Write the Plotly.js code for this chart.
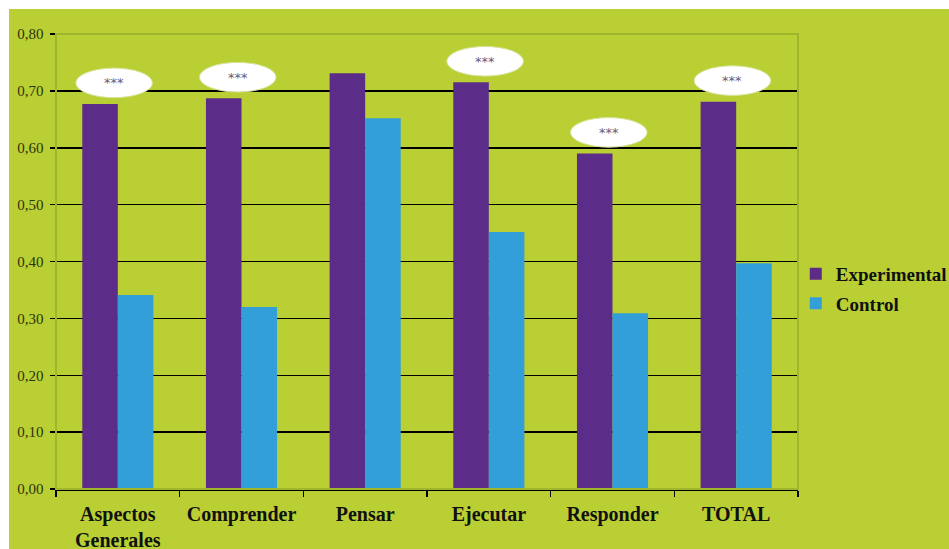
<!DOCTYPE html>
<html>
<head>
<meta charset="utf-8">
<script src="https://cdn.plot.ly/plotly-3.0.1.min.js"></script>
<style>
  html, body { margin: 0; padding: 0; background: #ffffff; }
  #chart { position: absolute; left: 9px; top: 9px; width: 940px; height: 540px; }
</style>
</head>
<body>
<div id="chart"></div>
<script>
const categories = ["Aspectos<br>Generales", "Comprender", "Pensar", "Ejecutar", "Responder", "TOTAL"];
const experimental = [0.677, 0.687, 0.731, 0.715, 0.590, 0.681];
const control = [0.341, 0.320, 0.652, 0.452, 0.309, 0.397];
const significant = [true, true, false, true, true, true];
const sigLabel = "***";
const yTicks = [0, 0.1, 0.2, 0.3, 0.4, 0.5, 0.6, 0.7, 0.8];

const green = "#bacf33";
const serif = "Liberation Serif, Times New Roman, serif";

const traces = [
  { type: "bar", name: "Experimental", x: categories, y: experimental, legendgroup: "e",
    marker: { color: "#5c2d88" }, hoverinfo: "none" },
  { type: "bar", name: "Control", x: categories, y: control, legendgroup: "c",
    marker: { color: "#339fd8" }, hoverinfo: "none" }
];

const shapes = [];
const annotations = [];
categories.forEach((c, i) => {
  if (!significant[i]) return;
  const cy = experimental[i] + 0.037;
  shapes.push({ type: "circle", xref: "x", yref: "y",
    x0: i - 0.34, x1: i + 0.28, y0: cy - 0.026, y1: cy + 0.026,
    fillcolor: "#ffffff", line: { color: "#d8e39a", width: 1 }, layer: "above" });
  annotations.push({ xref: "x", yref: "y", x: i - 0.03, y: cy, text: sigLabel,
    showarrow: false, font: { family: "DejaVu Sans, sans-serif", size: 13, color: "#6a5a7a" } });
});
// plot area border
shapes.push({ type: "rect", xref: "paper", yref: "paper", x0: 0, x1: 1, y0: 0, y1: 1,
  line: { color: "#9fb52c", width: 2 }, layer: "above" });

const layout = {
  width: 940, height: 540,
  paper_bgcolor: green, plot_bgcolor: green,
  margin: { l: 47, r: 151, t: 25, b: 60, autoexpand: false },
  barmode: "group", bargap: 0.425, bargroupgap: 0,
  separators: ",.",
  showlegend: true,
  legend: { x: 0.997, xanchor: "left", y: 0.44, yanchor: "middle",
    font: { family: serif, size: 19, color: "#111" , weight: "bold"},
    bgcolor: "rgba(0,0,0,0)", itemwidth: 30, tracegroupgap: 2, traceorder: "grouped" },
  xaxis: { type: "category", showline: true, linecolor: "#000", linewidth: 1.5,
    ticks: "outside", tickson: "boundaries", ticklen: 6, tickcolor: "#000", tickwidth: 1.5,
    tickfont: { family: serif, size: 20, color: "#111", weight: "bold" },
    ticklabelstandoff: 6,
    showgrid: false, fixedrange: true },
  yaxis: { range: [0, 0.8], tickvals: yTicks, tickformat: ".2f",
    showline: true, linecolor: "#000", linewidth: 1.5,
    ticks: "outside", ticklen: 5, tickcolor: "#000", tickwidth: 1.5,
    ticklabelstandoff: 3,
    showgrid: true, gridcolor: "#000", gridwidth: 1.5, zeroline: false,
    tickfont: { family: serif, size: 15, color: "#2b3310" }, fixedrange: true },
  shapes: shapes,
  annotations: annotations
};

Plotly.newPlot("chart", traces, layout, { displayModeBar: false, staticPlot: true });
</script>
</body>
</html>
